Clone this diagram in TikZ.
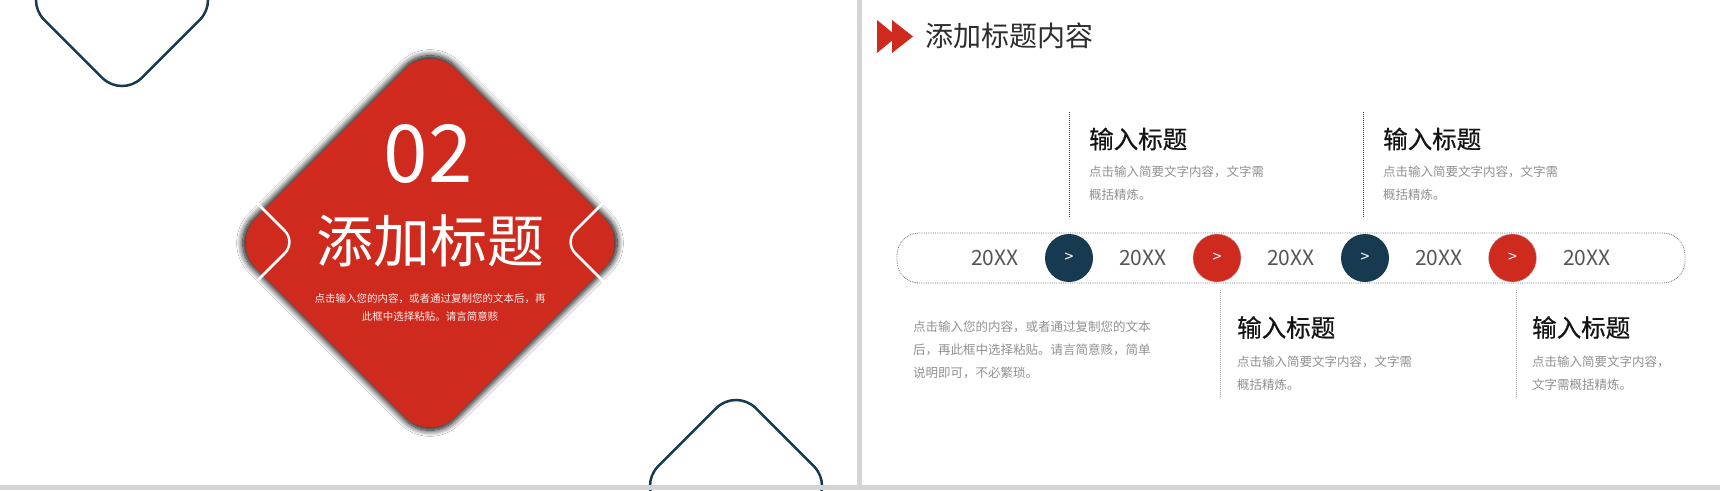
\documentclass[tikz,border=0pt]{standalone}
\usepackage{fontspec}
\setmainfont{Noto Sans CJK SC}
\newfontfamily\medfont{Noto Sans CJK SC}[FakeBold=0.6]
\usetikzlibrary{shadows.blur}
\definecolor{navy}{RGB}{24,58,80}
\definecolor{redm}{RGB}{206,42,30}
\definecolor{divgray}{RGB}{212,212,212}
\definecolor{txtgray}{RGB}{145,145,145}
\definecolor{yeargray}{RGB}{85,85,85}
\definecolor{titlegray}{RGB}{45,45,45}
\begin{document}
\begin{tikzpicture}[x=1pt,y=-1pt,
  outline/.style={draw=navy, line width=2.5pt, rounded corners=28pt},
  chev/.style={draw=white, line width=2.5pt, rounded corners=16pt},
  dot/.style={circle, minimum size=48pt, inner sep=0pt, text=white, font=\fontsize{16}{16}\selectfont},
  reddot/.style={dot, fill=redm, draw=gray!55, densely dotted, line width=0.8pt},
  navydot/.style={dot, fill=navy},
  year/.style={text=yeargray, inner sep=0pt, font=\fontsize{21}{21}\selectfont},
  htitle/.style={anchor=west, inner sep=0pt, text=black!92, font=\medfont\fontsize{24.5}{24.5}\selectfont},
  desc/.style={anchor=west, inner sep=0pt, align=left, text=txtgray, font=\fontsize{12.5}{23}\selectfont},
  vtop/.style={draw=black!75, densely dotted, line width=1pt},
  vbot/.style={draw=black!35, densely dotted, line width=1pt}
]
\fill[white] (0,0) rectangle (1720,490);
\useasboundingbox (0,0) rectangle (1720,490);

% ---------- left panel ----------
\draw[outline] (122,-97.6) -- (219.6,0) -- (122,97.6) -- (24.4,0) -- cycle;
\draw[outline] (736,388.4) -- (833.6,486) -- (736,583.6) -- (638.4,486) -- cycle;

\fill[redm, rounded corners=35pt,
  blur shadow={shadow xshift=0pt, shadow yshift=0pt, shadow scale=1.015, shadow blur radius=6pt, shadow opacity=100, shadow blur steps=12}]
  (430,44) -- (629,243) -- (430,442) -- (231,243) -- cycle;
\draw[chev] (255,201) -- (296,242) -- (255,283);
\draw[chev] (605,201) -- (564,242) -- (605,283);

\node[text=white, inner sep=0pt, font=\fontsize{80}{80}\selectfont] (num) at (428,153.5) {02};
\node[text=white, inner sep=0pt, font=\fontsize{57}{57}\selectfont] (sec) at (430,240.5) {添加标题};
\node[text=white, text opacity=0.92, inner sep=0pt, align=center, font=\fontsize{10.5}{18}\selectfont] (secdesc) at (430,307)
  {点击输入您的内容，或者通过复制您的文本后，再\\此框中选择粘贴。请言简意赅};

% ---------- dividers ----------
\fill[divgray] (857,0) rectangle (862,490);
\fill[divgray] (0,485) rectangle (1720,490);

% ---------- right panel ----------
\fill[redm] (877,20) -- (897,36.5) -- (877,53) -- cycle;
\fill[redm] (892,20) -- (913,36.5) -- (892,53) -- cycle;
\node[anchor=west, inner sep=0pt, text=titlegray, font=\fontsize{28}{28}\selectfont] (head) at (925,36) {添加标题内容};

\node[draw=black!55, densely dotted, line width=0.8pt, rounded corners=22pt,
  minimum width=788pt, minimum height=50pt, inner sep=0pt] (bar) at (1291,258) {};

\node[navydot] (c1) at (1069,258) {>};
\node[reddot]  (c2) at (1217,258) {>};
\node[navydot] (c3) at (1365,258) {>};
\node[reddot]  (c4) at (1512.5,258) {>};

\node[year] (y1) at (995,258) {20XX};
\node[year] (y2) at (1143,258) {20XX};
\node[year] (y3) at (1291,258) {20XX};
\node[year] (y4) at (1439,258) {20XX};
\node[year] (y5) at (1587,258) {20XX};

\coordinate (t1a) at (1069.5,112); \coordinate (t1b) at (1069.5,218);
\coordinate (t2a) at (1363.5,112); \coordinate (t2b) at (1363.5,218);
\coordinate (b1a) at (1220,290);   \coordinate (b1b) at (1220,398);
\coordinate (b2a) at (1516,290);   \coordinate (b2b) at (1516,398);
\draw[vtop] (t1a) -- (t1b);
\draw[vtop] (t2a) -- (t2b);
\draw[vbot] (b1a) -- (b1b);
\draw[vbot] (b2a) -- (b2b);

\node[htitle] (tt1) at (1089,139) {输入标题};
\node[desc]   (td1) at (1089,183.5) {点击输入简要文字内容，文字需\\概括精炼。};
\node[htitle] (tt2) at (1383,139) {输入标题};
\node[desc]   (td2) at (1383,183.5) {点击输入简要文字内容，文字需\\概括精炼。};

\node[htitle] (bt1) at (1237,327.5) {输入标题};
\node[desc]   (bd1) at (1237,373.5) {点击输入简要文字内容，文字需\\概括精炼。};
\node[htitle] (bt2) at (1532,327.5) {输入标题};
\node[desc]   (bd2) at (1532,373.5) {点击输入简要文字内容，\\文字需概括精炼。};

\node[desc] (para) at (913,350) {点击输入您的内容，或者通过复制您的文本\\后，再此框中选择粘贴。请言简意赅，简单\\说明即可，不必繁琐。};
\end{tikzpicture}
\end{document}
